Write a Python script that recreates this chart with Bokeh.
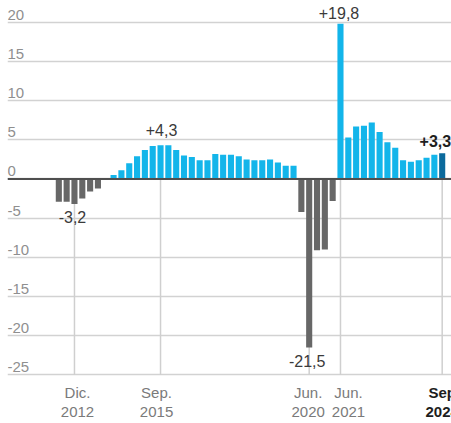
from bokeh.plotting import figure
from bokeh.models import Range1d, FixedTicker, Span, ColumnDataSource
from bokeh.core.properties import value
from bokeh.embed import file_html
from bokeh.resources import INLINE

# ---- data (quarterly year-on-year GDP growth, %) ----
quarters = [
    "2012-T2", "2012-T3", "2012-T4",
    "2013-T1", "2013-T2", "2013-T3", "2013-T4",
    "2014-T1", "2014-T2", "2014-T3", "2014-T4",
    "2015-T1", "2015-T2", "2015-T3", "2015-T4",
    "2016-T1", "2016-T2", "2016-T3", "2016-T4",
    "2017-T1", "2017-T2", "2017-T3", "2017-T4",
    "2018-T1", "2018-T2", "2018-T3", "2018-T4",
    "2019-T1", "2019-T2", "2019-T3", "2019-T4",
    "2020-T1", "2020-T2", "2020-T3", "2020-T4",
    "2021-T1", "2021-T2", "2021-T3", "2021-T4",
    "2022-T1", "2022-T2", "2022-T3", "2022-T4",
    "2023-T1", "2023-T2", "2023-T3", "2023-T4",
    "2024-T1", "2024-T2", "2024-T3",
]
growth = [
    -2.9, -2.9, -3.2,
    -2.5, -1.6, -1.2, 0.0,
    0.5, 1.1, 2.0, 2.9,
    3.7, 4.2, 4.3, 4.3,
    3.7, 3.0, 2.8, 2.4,
    2.4, 3.2, 3.1, 3.1,
    2.9, 2.5, 2.4, 2.4,
    2.5, 2.1, 1.7, 1.7,
    -4.2, -21.5, -9.1, -9.0,
    -2.8, 19.8, 5.3, 6.7,
    6.8, 7.2, 6.0, 4.7,
    4.0, 2.4, 2.2, 2.4,
    2.7, 3.1, 3.3,
]
yticks = [-25, -20, -15, -10, -5, 0, 5, 10, 15, 20]
ytick_labels = ["-25", "-20", "-15", "-10", "-5", "0", "5", "10", "15", "20"]
tick_quarters = ["2012-T4", "2015-T3", "2020-T2", "2021-T2", "2024-T3"]
tick_months = ["Dic.", "Sep.", "Jun.", "Jun.", "Sep"]
tick_years = ["2012", "2015", "2020", "2021", "2024"]

# ---- styles ----
BLUE = "#13b5ea"
DARK_BLUE = "#0b6a9c"
GREY_BAR = "#676767"
FONT = "Liberation Sans"

xs = list(range(len(quarters)))
bar_colors = []
for i, v in enumerate(growth):
    if i == len(growth) - 1:
        bar_colors.append(DARK_BLUE)
    elif v < 0:
        bar_colors.append(GREY_BAR)
    else:
        bar_colors.append(BLUE)

x_start, x_end = -6.56, 50.19
y_start, y_end = -31.19, 22.77

p = figure(width=451, height=423, output_backend="svg", toolbar_location=None,
           x_range=Range1d(x_start, x_end), y_range=Range1d(y_start, y_end),
           min_border=0, min_border_left=7, min_border_right=0,
           min_border_top=0, min_border_bottom=0)
p.outline_line_color = None
p.background_fill_color = "white"
p.xaxis.visible = False
p.yaxis.visible = False
p.xgrid.visible = False
p.ygrid.ticker = FixedTicker(ticks=yticks)
p.ygrid.grid_line_color = "#d2d2d2"
p.ygrid.grid_line_width = 1.6

# vertical tick lines
tick_x = [quarters.index(q) for q in tick_quarters]
p.segment(x0=tick_x, x1=tick_x, y0=[0] * len(tick_x), y1=[yticks[0]] * len(tick_x),
          line_color="#cfcfcf", line_width=1.5)

# bars
src = ColumnDataSource(dict(x=xs, top=growth, color=bar_colors))
p.vbar(x="x", top="top", bottom=0, width=0.78, fill_color="color",
       line_color=None, source=src)

# zero baseline
p.add_layout(Span(location=0, dimension="width", line_color="#4f4f4f", line_width=2))

# y tick labels (above the grid lines, left aligned)
p.text(x=[x_start] * len(yticks), y=yticks, text=ytick_labels, x_offset=0, y_offset=-7.5,
       text_font=value(FONT), text_font_size="15px", text_color="#8f8f8f",
       text_align="left", text_baseline="middle")

# x tick labels (two rows)
n = len(tick_x)
styles = ["normal"] * (n - 1) + ["bold"]
colors = ["#7a7a7a"] * (n - 1) + ["#1e1e1e"]
lab_xoff = [3, -4, -1, 8, 0]
xsrc = ColumnDataSource(dict(x=tick_x, y=[yticks[0]] * n, m=tick_months, yr=tick_years,
                             st=styles, c=colors, xo=lab_xoff))
p.text(x="x", y="y", text="m", x_offset="xo", y_offset=18, source=xsrc,
       text_font=value(FONT), text_font_size="15px", text_color="c",
       text_font_style="st", text_align="center", text_baseline="middle")
p.text(x="x", y="y", text="yr", x_offset="xo", y_offset=37, source=xsrc,
       text_font=value(FONT), text_font_size="15px", text_color="c",
       text_font_style="st", text_align="center", text_baseline="middle")

# value callouts
c_vals = [growth[quarters.index(q)] for q in tick_quarters]
c_text = [("%+.1f" % v).replace(".", ",") for v in c_vals]
c_yoff = [13, -15, 13, -11, -12.5]
c_xoff = [-2, 1, -2, -1.5, 9]
c_align = ["center", "center", "center", "center", "right"]
c_style = ["normal"] * (n - 1) + ["bold"]
c_color = ["#3a3a3a"] * (n - 1) + ["#1e1e1e"]
csrc = ColumnDataSource(dict(x=tick_x, y=c_vals, t=c_text, yo=c_yoff, xo=c_xoff,
                             al=c_align, st=c_style, c=c_color))
p.text(x="x", y="y", text="t", x_offset="xo", y_offset="yo", source=csrc,
       text_font=value(FONT), text_font_size="16px", text_color="c",
       text_font_style="st", text_align="al", text_baseline="middle")

open("out.html", "w").write(file_html(p, INLINE))
